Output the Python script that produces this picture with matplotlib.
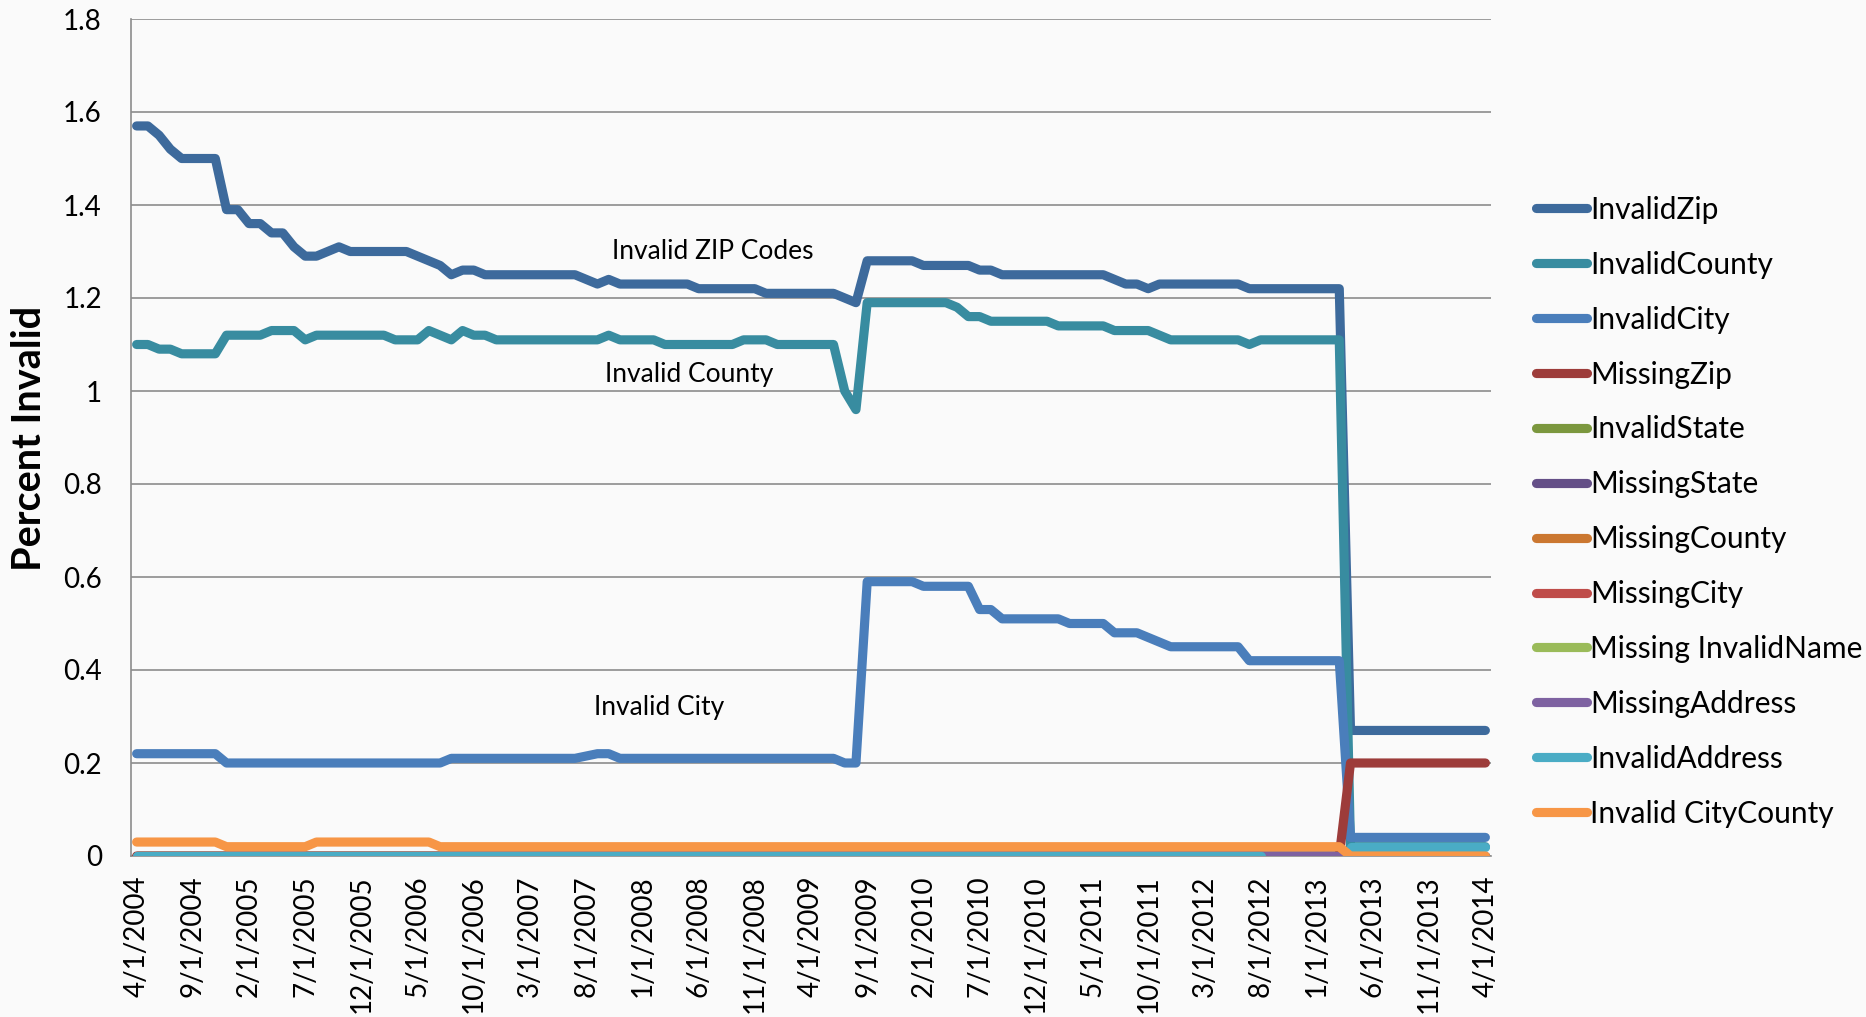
import numpy as np
import pandas as pd
import matplotlib
matplotlib.use("Agg")
import matplotlib.pyplot as plt

FONT = ["Lato", "DejaVu Sans"]
plt.rcParams["font.family"] = FONT

# ---------------- data ----------------
dates = pd.date_range("2004-04-01", "2014-04-01", freq="MS")
categories = [f"{d.month}/{d.day}/{d.year}" for d in dates]
N = len(categories)

invalid_zip = [
    1.57, 1.57, 1.55, 1.52, 1.50, 1.50, 1.50, 1.50, 1.39, 1.39,
    1.36, 1.36, 1.34, 1.34, 1.31, 1.29, 1.29, 1.30, 1.31, 1.30,
    1.30, 1.30, 1.30, 1.30, 1.30, 1.29, 1.28, 1.27, 1.25, 1.26,
    1.26, 1.25, 1.25, 1.25, 1.25, 1.25, 1.25, 1.25, 1.25, 1.25,
    1.24, 1.23, 1.24, 1.23, 1.23, 1.23, 1.23, 1.23, 1.23, 1.23,
    1.22, 1.22, 1.22, 1.22, 1.22, 1.22, 1.21, 1.21, 1.21, 1.21,
    1.21, 1.21, 1.21, 1.20, 1.19, 1.28, 1.28, 1.28, 1.28, 1.28,
    1.27, 1.27, 1.27, 1.27, 1.27, 1.26, 1.26, 1.25, 1.25, 1.25,
    1.25, 1.25, 1.25, 1.25, 1.25, 1.25, 1.25, 1.24, 1.23, 1.23,
    1.22, 1.23, 1.23, 1.23, 1.23, 1.23, 1.23, 1.23, 1.23, 1.22,
    1.22, 1.22, 1.22, 1.22, 1.22, 1.22, 1.22, 1.22, 0.27, 0.27,
    0.27, 0.27, 0.27, 0.27, 0.27, 0.27, 0.27, 0.27, 0.27, 0.27,
    0.27,
]

invalid_county = [
    1.10, 1.10, 1.09, 1.09, 1.08, 1.08, 1.08, 1.08, 1.12, 1.12,
    1.12, 1.12, 1.13, 1.13, 1.13, 1.11, 1.12, 1.12, 1.12, 1.12,
    1.12, 1.12, 1.12, 1.11, 1.11, 1.11, 1.13, 1.12, 1.11, 1.13,
    1.12, 1.12, 1.11, 1.11, 1.11, 1.11, 1.11, 1.11, 1.11, 1.11,
    1.11, 1.11, 1.12, 1.11, 1.11, 1.11, 1.11, 1.10, 1.10, 1.10,
    1.10, 1.10, 1.10, 1.10, 1.11, 1.11, 1.11, 1.10, 1.10, 1.10,
    1.10, 1.10, 1.10, 1.00, 0.96, 1.19, 1.19, 1.19, 1.19, 1.19,
    1.19, 1.19, 1.19, 1.18, 1.16, 1.16, 1.15, 1.15, 1.15, 1.15,
    1.15, 1.15, 1.14, 1.14, 1.14, 1.14, 1.14, 1.13, 1.13, 1.13,
    1.13, 1.12, 1.11, 1.11, 1.11, 1.11, 1.11, 1.11, 1.11, 1.10,
    1.11, 1.11, 1.11, 1.11, 1.11, 1.11, 1.11, 1.11, 0.02, 0.02,
    0.02, 0.02, 0.02, 0.02, 0.02, 0.02, 0.02, 0.02, 0.02, 0.02,
    0.02,
]

invalid_city = [
    0.22, 0.22, 0.22, 0.22, 0.22, 0.22, 0.22, 0.22, 0.20, 0.20,
    0.20, 0.20, 0.20, 0.20, 0.20, 0.20, 0.20, 0.20, 0.20, 0.20,
    0.20, 0.20, 0.20, 0.20, 0.20, 0.20, 0.20, 0.20, 0.21, 0.21,
    0.21, 0.21, 0.21, 0.21, 0.21, 0.21, 0.21, 0.21, 0.21, 0.21,
    0.215, 0.22, 0.22, 0.21, 0.21, 0.21, 0.21, 0.21, 0.21, 0.21,
    0.21, 0.21, 0.21, 0.21, 0.21, 0.21, 0.21, 0.21, 0.21, 0.21,
    0.21, 0.21, 0.21, 0.20, 0.20, 0.59, 0.59, 0.59, 0.59, 0.59,
    0.58, 0.58, 0.58, 0.58, 0.58, 0.53, 0.53, 0.51, 0.51, 0.51,
    0.51, 0.51, 0.51, 0.50, 0.50, 0.50, 0.50, 0.48, 0.48, 0.48,
    0.47, 0.46, 0.45, 0.45, 0.45, 0.45, 0.45, 0.45, 0.45, 0.42,
    0.42, 0.42, 0.42, 0.42, 0.42, 0.42, 0.42, 0.42, 0.04, 0.04,
    0.04, 0.04, 0.04, 0.04, 0.04, 0.04, 0.04, 0.04, 0.04, 0.04,
    0.04,
]

missing_zip = [
    0.00, 0.00, 0.00, 0.00, 0.00, 0.00, 0.00, 0.00, 0.00, 0.00,
    0.00, 0.00, 0.00, 0.00, 0.00, 0.00, 0.00, 0.00, 0.00, 0.00,
    0.00, 0.00, 0.00, 0.00, 0.00, 0.00, 0.00, 0.00, 0.00, 0.00,
    0.00, 0.00, 0.00, 0.00, 0.00, 0.00, 0.00, 0.00, 0.00, 0.00,
    0.00, 0.00, 0.00, 0.00, 0.00, 0.00, 0.00, 0.00, 0.00, 0.00,
    0.00, 0.00, 0.00, 0.00, 0.00, 0.00, 0.00, 0.00, 0.00, 0.00,
    0.00, 0.00, 0.00, 0.00, 0.00, 0.00, 0.00, 0.00, 0.00, 0.00,
    0.00, 0.00, 0.00, 0.00, 0.00, 0.00, 0.00, 0.00, 0.00, 0.00,
    0.00, 0.00, 0.00, 0.00, 0.00, 0.00, 0.00, 0.00, 0.00, 0.00,
    0.00, 0.00, 0.00, 0.00, 0.00, 0.00, 0.00, 0.00, 0.00, 0.00,
    0.00, 0.00, 0.00, 0.00, 0.00, 0.00, 0.00, 0.00, 0.20, 0.20,
    0.20, 0.20, 0.20, 0.20, 0.20, 0.20, 0.20, 0.20, 0.20, 0.20,
    0.20,
]

invalid_state = [0.0] * N
missing_state = [0.0] * N
missing_county = [0.0] * N
missing_city = [0.0] * N
missing_invalid_name = [0.0] * N
missing_address = [0.0] * N

nan = float("nan")
invalid_address = [
    0.00, 0.00, 0.00, 0.00, 0.00, 0.00, 0.00, 0.00, 0.00, 0.00,
    0.00, 0.00, 0.00, 0.00, 0.00, 0.00, 0.00, 0.00, 0.00, 0.00,
    0.00, 0.00, 0.00, 0.00, 0.00, 0.00, 0.00, 0.00, 0.00, 0.00,
    0.00, 0.00, 0.00, 0.00, 0.00, 0.00, 0.00, 0.00, 0.00, 0.00,
    0.00, 0.00, 0.00, 0.00, 0.00, 0.00, 0.00, 0.00, 0.00, 0.00,
    0.00, 0.00, 0.00, 0.00, 0.00, 0.00, 0.00, 0.00, 0.00, 0.00,
    0.00, 0.00, 0.00, 0.00, 0.00, 0.00, 0.00, 0.00, 0.00, 0.00,
    0.00, 0.00, 0.00, 0.00, 0.00, 0.00, 0.00, 0.00, 0.00, 0.00,
    0.00, 0.00, 0.00, 0.00, 0.00, 0.00, 0.00, 0.00, 0.00, 0.00,
    0.00, 0.00, 0.00, 0.00, 0.00, 0.00, 0.00, 0.00, 0.00, 0.00,
    0.00, nan, nan, nan, nan, nan, nan, nan, 0.02, 0.02,
    0.02, 0.02, 0.02, 0.02, 0.02, 0.02, 0.02, 0.02, 0.02, 0.02,
    0.02,
]

invalid_city_county = [
    0.03, 0.03, 0.03, 0.03, 0.03, 0.03, 0.03, 0.03, 0.02, 0.02,
    0.02, 0.02, 0.02, 0.02, 0.02, 0.02, 0.03, 0.03, 0.03, 0.03,
    0.03, 0.03, 0.03, 0.03, 0.03, 0.03, 0.03, 0.02, 0.02, 0.02,
    0.02, 0.02, 0.02, 0.02, 0.02, 0.02, 0.02, 0.02, 0.02, 0.02,
    0.02, 0.02, 0.02, 0.02, 0.02, 0.02, 0.02, 0.02, 0.02, 0.02,
    0.02, 0.02, 0.02, 0.02, 0.02, 0.02, 0.02, 0.02, 0.02, 0.02,
    0.02, 0.02, 0.02, 0.02, 0.02, 0.02, 0.02, 0.02, 0.02, 0.02,
    0.02, 0.02, 0.02, 0.02, 0.02, 0.02, 0.02, 0.02, 0.02, 0.02,
    0.02, 0.02, 0.02, 0.02, 0.02, 0.02, 0.02, 0.02, 0.02, 0.02,
    0.02, 0.02, 0.02, 0.02, 0.02, 0.02, 0.02, 0.02, 0.02, 0.02,
    0.02, 0.02, 0.02, 0.02, 0.02, 0.02, 0.02, 0.02, 0.00, 0.00,
    0.00, 0.00, 0.00, 0.00, 0.00, 0.00, 0.00, 0.00, 0.00, 0.00,
    0.00,
]

series_names = [
    "InvalidZip", "InvalidCounty", "InvalidCity", "MissingZip", "InvalidState",
    "MissingState", "MissingCounty", "MissingCity", "Missing InvalidName",
    "MissingAddress", "InvalidAddress", "Invalid CityCounty",
]
series_values = [
    invalid_zip, invalid_county, invalid_city, missing_zip, invalid_state,
    missing_state, missing_county, missing_city, missing_invalid_name,
    missing_address, invalid_address, invalid_city_county,
]
series_colors = [
    "#3D6A9C", "#388CA0", "#4A7EBB", "#9D3C3A", "#7B973E", "#644F87",
    "#CB7730", "#BF4C49", "#9ABB59", "#7E62A1", "#4AACC5", "#F79646",
]

y_ticks = [0, 0.2, 0.4, 0.6, 0.8, 1.0, 1.2, 1.4, 1.6, 1.8]
y_tick_labels = ["0", "0.2", "0.4", "0.6", "0.8", "1", "1.2", "1.4", "1.6", "1.8"]

annotations = [
    ("Invalid ZIP Codes", 51.3, 1.30),
    ("Invalid County", 49.2, 1.035),
    ("Invalid City", 46.5, 0.32),
]

# ---------------- figure ----------------
W, H, DPI = 1866, 1017, 100
BG = "#FAFAFA"
LW = 6.6
fig = plt.figure(figsize=(W / DPI, H / DPI), dpi=DPI, facecolor=BG)
ax = fig.add_axes([131 / W, 1 - 856 / H, (1491 - 131) / W, (856 - 19) / H], facecolor=BG)

x = np.arange(N)
for name, vals, col in zip(series_names, series_values, series_colors):
    ax.plot(x, vals, color=col, lw=LW, solid_capstyle="round",
            solid_joinstyle="round", label=name, zorder=3)

ax.set_xlim(-0.5, N - 0.5)
ax.set_ylim(0, 1.8)
ax.set_yticks(y_ticks)
ax.set_yticklabels(y_tick_labels)
ax.set_xticks(x[::5])
ax.set_xticklabels(categories[::5], rotation=90, ha="center", va="top")

ax.grid(axis="y", color="#8C8C8C", lw=1.2, zorder=1)
ax.set_axisbelow(True)
for s in ["top", "right"]:
    ax.spines[s].set_visible(False)
for s in ["left", "bottom"]:
    ax.spines[s].set_color("#8C8C8C")
    ax.spines[s].set_linewidth(1.2)

ax.tick_params(axis="y", length=0, pad=21, labelsize=20, labelcolor="black")
ax.tick_params(axis="x", length=0, pad=14, labelsize=20, labelcolor="black")

for txt, ax_x, ax_y in annotations:
    ax.text(ax_x, ax_y, txt, fontsize=19, ha="center", va="center", color="black", zorder=5)

fig.text(30 / W, 1 - 438 / H, "Percent Invalid", rotation=90, fontsize=28.5,
         fontweight="bold", ha="center", va="center")

leg = fig.legend(loc="upper left", bbox_to_anchor=(1524 / W, 1 - 184 / H),
                 frameon=False, fontsize=21.5, handlelength=1.72,
                 handletextpad=0.1, labelspacing=0.9, borderaxespad=0)
for line in leg.get_lines():
    line.set_linewidth(LW)
    line.set_solid_capstyle("round")

fig.savefig("out.png", dpi=DPI, facecolor=BG)
